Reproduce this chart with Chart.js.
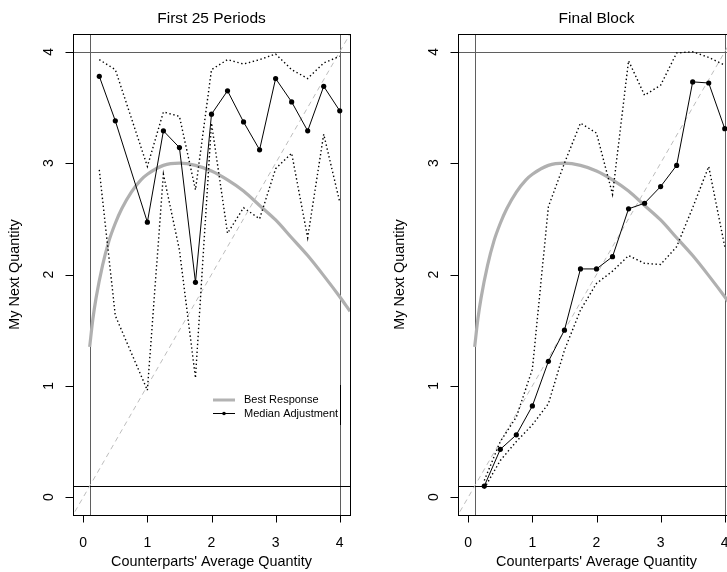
<!DOCTYPE html>
<html>
<head>
<meta charset="utf-8">
<script src="https://cdn.jsdelivr.net/npm/chart.js@4.4.1/dist/chart.umd.min.js"></script>
<style>
html, body { margin: 0; padding: 0; background: #fff; overflow: hidden; width: 727px; height: 572px; }
canvas { position: absolute; top: 0; }
#izq { left: 0; }
#der { left: 385px; }
</style>
</head>
<body>
<canvas id="izq" width="385" height="572"></canvas>
<canvas id="der" width="385" height="572"></canvas>
<script>
// Ejes y marcas
const xTicks = [0, 1, 2, 3, 4];
const yTicks = [0, 1, 2, 3, 4];
const rangoEje = [-0.16, 4.16];
const lineasRef = [0.1, 4];

// Panel izquierdo: primeros 25 periodos
const xPrimeros = [0.25, 0.5, 1, 1.25, 1.5, 1.75, 2, 2.25, 2.5, 2.75, 3, 3.25, 3.5, 3.75, 4];
const medianaPrimeros = [3.78, 3.38, 2.47, 3.29, 3.14, 1.93, 3.44, 3.65, 3.37, 3.12, 3.76, 3.55, 3.29, 3.69, 3.47];
const altoPrimeros = [3.93, 3.84, 2.97, 3.46, 3.42, 2.76, 3.84, 3.93, 3.89, 3.93, 3.98, 3.84, 3.76, 3.90, 3.96];
const bajoPrimeros = [2.94, 1.63, 0.96, 2.90, 2.22, 1.07, 3.36, 2.37, 2.60, 2.50, 2.95, 3.09, 2.33, 3.26, 2.65];

// Panel derecho: bloque final
const xFinal = [0.25, 0.5, 0.75, 1, 1.25, 1.5, 1.75, 2, 2.25, 2.5, 2.75, 3, 3.25, 3.5, 3.75, 4];
const medianaFinal = [0.10, 0.43, 0.56, 0.82, 1.22, 1.50, 2.05, 2.05, 2.16, 2.59, 2.64, 2.79, 2.98, 3.73, 3.72, 3.31];
const altoFinal = [0.15, 0.50, 0.72, 1.15, 2.61, 3.00, 3.36, 3.27, 2.72, 3.92, 3.61, 3.70, 3.99, 4.00, 3.95, 3.88];
const bajoFinal = [0.08, 0.33, 0.50, 0.65, 0.84, 1.32, 1.68, 1.92, 2.03, 2.17, 2.10, 2.09, 2.25, 2.60, 2.97, 2.25];

// Mejor respuesta
const xMejor = [0.1, 0.15, 0.2, 0.3, 0.4, 0.5, 0.6, 0.75, 0.9, 1, 1.25, 1.5, 1.75, 2, 2.25, 2.5, 2.75, 3, 3.25, 3.5, 3.75, 4, 4.16];
const yMejor = [1.35, 1.60, 1.79, 2.08, 2.30, 2.46, 2.59, 2.74, 2.85, 2.90, 2.98, 3.00, 2.98, 2.93, 2.85, 2.75, 2.62, 2.49, 2.33, 2.17, 1.99, 1.80, 1.67];

// Diagonal de 45 grados
const xDiagonal = [-0.2, 4.2];

const fuente = '"Liberation Sans", Arial, Helvetica, sans-serif';

function puntos(xs, ys) {
    return xs.map((v, i) => ({ x: v, y: ys[i] }));
}

function nitido(v) {
    return Math.round(v) + 0.5;
}

// Plugin para imitar el marco de R (caja, marcas, textos, leyenda)
const marcoR = {
    id: 'marcoR',
    beforeDatasetsDraw(chart, args, opts) {
        const { ctx, chartArea: a, scales: { x, y } } = chart;
        ctx.save();
        ctx.beginPath();
        ctx.rect(a.left, a.top, a.right - a.left, a.bottom - a.top);
        ctx.clip();
        ctx.lineWidth = 1;
        // lineas verticales
        ctx.strokeStyle = '#5f5f5f';
        lineasRef.forEach(v => {
            const px = nitido(x.getPixelForValue(v));
            ctx.beginPath();
            ctx.moveTo(px, a.top);
            ctx.lineTo(px, a.bottom);
            ctx.stroke();
        });
        // lineas horizontales
        lineasRef.forEach(v => {
            const py = nitido(y.getPixelForValue(v));
            ctx.strokeStyle = v < 1 ? '#000' : '#5f5f5f';
            ctx.beginPath();
            ctx.moveTo(a.left, py);
            ctx.lineTo(a.right, py);
            ctx.stroke();
        });
        ctx.restore();
    },
    afterDraw(chart, args, opts) {
        const { ctx, chartArea: a, scales: { x, y } } = chart;
        ctx.save();
        ctx.strokeStyle = '#000';
        ctx.fillStyle = '#000';
        ctx.lineWidth = 1;

        // caja
        const l = nitido(a.left), t = nitido(a.top), r = nitido(a.right), b = nitido(a.bottom);
        ctx.strokeRect(l, t, r - l, b - t);

        // eje x
        ctx.font = '14px ' + fuente;
        ctx.textAlign = 'center';
        ctx.textBaseline = 'alphabetic';
        ctx.beginPath();
        xTicks.forEach(v => {
            const px = nitido(x.getPixelForValue(v));
            ctx.moveTo(px, b);
            ctx.lineTo(px, b + 7);
        });
        ctx.stroke();
        xTicks.forEach(v => {
            ctx.fillText(String(v), x.getPixelForValue(v), a.bottom + 32);
        });

        // eje y
        ctx.beginPath();
        yTicks.forEach(v => {
            const py = nitido(y.getPixelForValue(v));
            ctx.moveTo(l, py);
            ctx.lineTo(l - 8, py);
        });
        ctx.stroke();
        yTicks.forEach(v => {
            ctx.save();
            ctx.translate(a.left - 20.5, y.getPixelForValue(v));
            ctx.rotate(-Math.PI / 2);
            ctx.fillText(String(v), 0, 0);
            ctx.restore();
        });

        // titulos de ejes
        ctx.font = '14.4px ' + fuente;
        const cx = (a.left + a.right) / 2;
        const cy = (a.top + a.bottom) / 2;
        ctx.fillText("Counterparts' Average Quantity", cx, a.bottom + 51);
        ctx.save();
        ctx.translate(a.left - 54, cy);
        ctx.rotate(-Math.PI / 2);
        ctx.fillText('My Next Quantity', 0, 0);
        ctx.restore();

        // titulo
        ctx.font = '15.5px ' + fuente;
        ctx.fillText(opts.titulo, cx, 23);

        // leyenda
        if (opts.leyenda) {
            const lx = a.left + 140;
            const ly = a.top + 366;
            ctx.lineWidth = 3;
            ctx.strokeStyle = '#b3b3b3';
            ctx.beginPath();
            ctx.moveTo(lx, ly);
            ctx.lineTo(lx + 22, ly);
            ctx.stroke();
            ctx.lineWidth = 1;
            ctx.strokeStyle = '#000';
            ctx.beginPath();
            ctx.moveTo(lx, ly + 13.5);
            ctx.lineTo(lx + 22, ly + 13.5);
            ctx.stroke();
            ctx.beginPath();
            ctx.arc(lx + 11, ly + 13.5, 1.8, 0, Math.PI * 2);
            ctx.fill();
            ctx.font = '11px ' + fuente;
            ctx.textAlign = 'left';
            ctx.textBaseline = 'middle';
            ctx.fillText('Best Response', lx + 31, ly);
            ctx.fillText('Median Adjustment', lx + 31, ly + 13.5);
            // borde derecho de la leyenda sobre la linea x = 4
            const bx = nitido(x.getPixelForValue(lineasRef[1]));
            ctx.beginPath();
            ctx.moveTo(bx, ly - 15);
            ctx.lineTo(bx, ly + 25);
            ctx.stroke();
        }
        ctx.restore();
    }
};

function crearPanel(id, titulo, leyenda, xs, mediana, alto, bajo) {
    const ctx = document.getElementById(id).getContext('2d');
    return new Chart(ctx, {
        type: 'line',
        data: {
            datasets: [
                {
                    label: 'Median Adjustment',
                    data: puntos(xs, mediana),
                    borderColor: '#000',
                    borderWidth: 1,
                    pointRadius: 2.6,
                    pointBackgroundColor: '#000',
                    pointBorderWidth: 0,
                    clip: 0
                },
                {
                    label: 'Upper',
                    data: puntos(xs, alto),
                    borderColor: '#000',
                    borderWidth: 1.4,
                    borderDash: [1.4, 2.6],
                    pointRadius: 0,
                    clip: 0
                },
                {
                    label: 'Lower',
                    data: puntos(xs, bajo),
                    borderColor: '#000',
                    borderWidth: 1.4,
                    borderDash: [1.4, 2.6],
                    pointRadius: 0,
                    clip: 0
                },
                {
                    label: '45',
                    data: puntos(xDiagonal, xDiagonal),
                    borderColor: '#bdbdbd',
                    borderWidth: 1,
                    borderDash: [5, 4],
                    pointRadius: 0,
                    clip: 0
                },
                {
                    label: 'Best Response',
                    data: puntos(xMejor, yMejor),
                    borderColor: '#b0b0b0',
                    borderWidth: 3.2,
                    cubicInterpolationMode: 'monotone',
                    pointRadius: 0,
                    clip: 0
                }
            ]
        },
        options: {
            responsive: false,
            animation: false,
            events: [],
            layout: {
                padding: { left: 73, right: 35, top: 34, bottom: 57 }
            },
            plugins: {
                legend: { display: false },
                tooltip: { enabled: false },
                marcoR: { titulo: titulo, leyenda: leyenda }
            },
            scales: {
                x: { type: 'linear', display: false, min: rangoEje[0], max: rangoEje[1] },
                y: { type: 'linear', display: false, min: rangoEje[0], max: rangoEje[1] }
            }
        },
        plugins: [marcoR]
    });
}

crearPanel('izq', 'First 25 Periods', true, xPrimeros, medianaPrimeros, altoPrimeros, bajoPrimeros);
crearPanel('der', 'Final Block', false, xFinal, medianaFinal, altoFinal, bajoFinal);
</script>
</body>
</html>
